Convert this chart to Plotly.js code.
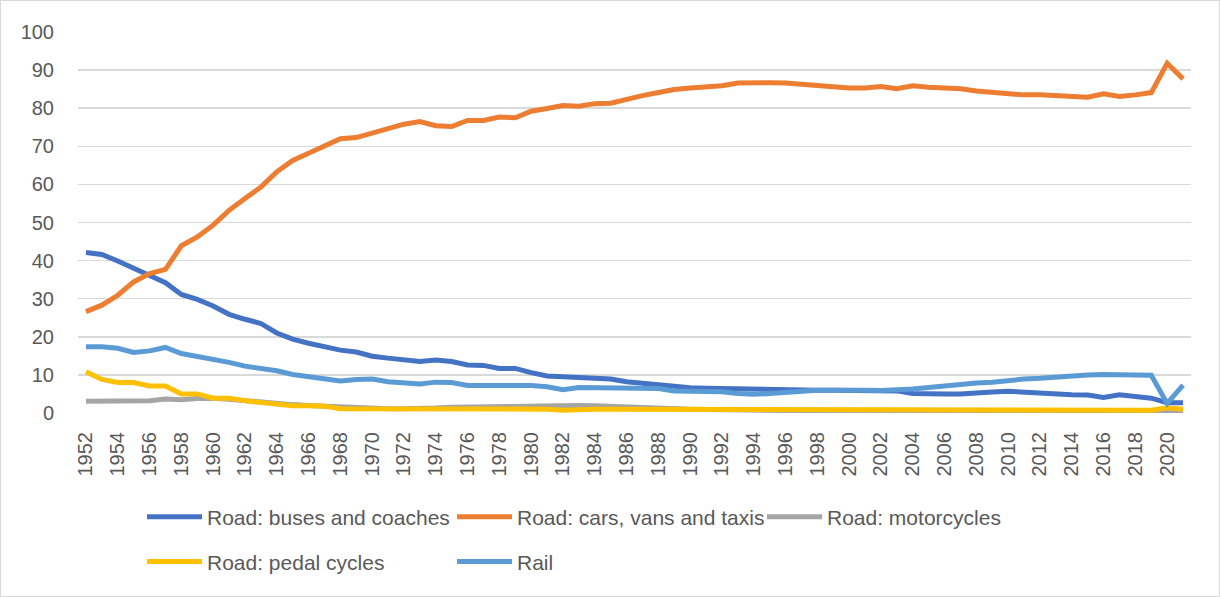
<!DOCTYPE html>
<html lang="en">
<head>
    <meta charset="UTF-8">
    <title>Passenger kilometres by mode</title>
    <script src="https://cdn.plot.ly/plotly-3.0.1.min.js"></script>
    <style>
        body {
            margin: 0;
            padding: 0;
            background: white;
            font-family: 'Liberation Sans', Arial, sans-serif;
        }

        .wrap {
            position: relative;
            width: 1220px;
            height: 597px;
        }

        #plot {
            width: 1220px;
            height: 597px;
        }

        /* thin frame round the whole chart, like the spreadsheet export */
        .frame {
            position: absolute;
            left: 0;
            top: 0;
            width: 1220px;
            height: 597px;
            box-sizing: border-box;
            border: 1px solid #d9d9d9;
            pointer-events: none;
        }
    </style>
</head>
<body>
    <div class="wrap">
        <div id="plot"></div>
        <div class="frame"></div>
    </div>

    <script>
        // categories
        const years = [];
        for (let y = 1952; y <= 2021; y++) years.push(y);

        // share of passenger kilometres (%), 1952 - 2021
        const buses = [
            42.1, 41.6, 39.9, 37.9, 36.2, 34.2, 31.1, 29.8, 28.1, 25.9,
            24.6, 23.5, 21.0, 19.4, 18.3, 17.4, 16.5, 16.0, 14.9, 14.4,
            14.1, 13.5, 13.9, 13.5, 12.6, 12.5, 11.7, 11.7, 10.6, 9.7,
            9.5, 9.3, 8.9, 8.9, 8.2, 7.8, 7.3, 6.9, 6.6, 6.5,
            6.4, 6.2, 6.1, 6.0, 6.0, 6.0, 6.0, 6.0, 6.0, 6.0,
            5.9, 5.8, 5.1, 5.2, 5.0, 5.0, 5.4, 5.5, 5.7, 5.4,
            5.3, 5.0, 4.8, 4.7, 4.1, 4.8, 4.4, 3.9, 2.7, 2.7
        ];
        const cars = [
            26.6, 28.3, 30.9, 34.4, 36.6, 37.7, 43.9, 46.2, 49.3, 53.2,
            56.3, 59.3, 63.3, 66.3, 68.2, 70.2, 72.0, 72.3, 73.5, 74.6,
            75.8, 76.5, 75.4, 75.2, 76.8, 76.8, 77.7, 77.5, 79.2, 79.9,
            80.7, 80.5, 81.2, 81.3, 82.4, 83.3, 84.1, 84.9, 85.3, 85.5,
            85.9, 86.6, 86.8, 86.7, 86.6, 86.2, 85.9, 85.5, 85.3, 85.3,
            85.7, 85.1, 85.9, 85.5, 85.4, 85.1, 84.5, 84.2, 83.7, 83.5,
            83.5, 83.4, 83.3, 82.9, 83.8, 83.1, 83.5, 84.1, 91.8, 87.7
        ];
        const motorcycles = [
            3.1, 3.1, 3.4, 3.4, 3.2, 3.7, 3.5, 3.8, 3.9, 3.6,
            3.2, 2.8, 2.4, 2.2, 2.0, 1.8, 1.5, 1.4, 1.2, 1.1,
            1.1, 1.1, 1.3, 1.5, 1.6, 1.6, 1.6, 1.6, 1.8, 2.1,
            2.2, 2.0, 1.9, 1.7, 1.5, 1.4, 1.2, 1.1, 1.0, 0.9,
            0.8, 0.7, 0.6, 0.6, 0.6, 0.6, 0.6, 0.6, 0.6, 0.6,
            0.6, 0.6, 0.6, 0.6, 0.6, 0.6, 0.6, 0.6, 0.6, 0.6,
            0.6, 0.6, 0.6, 0.6, 0.5, 0.5, 0.5, 0.5, 0.8, 0.6
        ];
        const pedalCycles = [
            10.8, 8.8, 8.0, 8.0, 7.1, 7.1, 5.0, 5.0, 3.9, 3.9,
            3.2, 2.8, 2.1, 1.9, 1.9, 1.8, 1.1, 1.1, 1.0, 1.0,
            1.0, 1.0, 1.0, 1.0, 1.0, 1.0, 1.0, 1.0, 1.0, 1.0,
            0.7, 1.0, 1.0, 1.0, 1.0, 0.9, 0.9, 0.9, 0.9, 0.9,
            0.9, 0.9, 0.9, 0.9, 0.7, 0.7, 0.7, 0.7, 0.7, 0.7,
            0.7, 0.7, 0.7, 0.7, 0.7, 0.7, 0.7, 0.7, 0.7, 0.7,
            0.7, 0.7, 0.7, 0.7, 0.7, 0.7, 0.7, 0.7, 1.4, 1.0
        ];
        const rail = [
            17.4, 17.4, 17.0, 15.9, 16.3, 17.2, 15.6, 14.9, 14.2, 13.3,
            12.3, 11.7, 11.1, 10.1, 9.5, 8.9, 8.4, 8.8, 8.9, 8.2,
            7.8, 7.6, 8.1, 8.0, 7.2, 7.2, 7.3, 7.3, 7.2, 6.9,
            6.1, 6.7, 6.7, 6.7, 6.6, 6.5, 6.4, 5.8, 5.8, 5.7,
            5.6, 5.1, 4.9, 5.1, 5.5, 5.8, 6.0, 6.0, 6.1, 6.0,
            5.9, 6.0, 6.3, 6.7, 7.2, 7.6, 7.9, 8.1, 8.6, 8.9,
            9.1, 9.5, 9.8, 10.0, 10.1, 10.1, 10.1, 9.9, 2.5, 7.3
        ];

        const seriesNames = [
            'Road: buses and coaches',
            'Road: cars, vans and taxis',
            'Road: motorcycles',
            'Road: pedal cycles',
            'Rail'
        ];

        const tickYears = years.filter(y => y % 2 === 0);

        function makeTrace(values, i, color, legendId) {
            return {
                x: years,
                y: values,
                type: 'scatter',
                mode: 'lines',
                name: seriesNames[i],
                legend: legendId,
                line: { color: color, width: 5 },
                hoverinfo: 'skip'
            };
        }

        const traces = [
            makeTrace(buses, 0, '#4472C4', 'legend'),
            makeTrace(cars, 1, '#ED7D31', 'legend'),
            makeTrace(motorcycles, 2, '#A5A5A5', 'legend'),
            makeTrace(pedalCycles, 3, '#FFC000', 'legend2'),
            makeTrace(rail, 4, '#5B9BD5', 'legend2')
        ];

        const legendBase = {
            orientation: 'h',
            xanchor: 'left',
            yanchor: 'middle',
            x: 0.0575,
            itemwidth: 55,
            entrywidth: 240,
            entrywidthmode: 'pixels',
            bgcolor: 'rgba(0,0,0,0)',
            font: { family: 'Liberation Sans, Arial, sans-serif', size: 21, color: '#595959' }
        };

        const layout = {
            width: 1220,
            height: 597,
            margin: { l: 78, r: 29, t: 32, b: 184 },
            paper_bgcolor: 'white',
            plot_bgcolor: 'white',
            font: { family: 'Liberation Sans, Arial, sans-serif', size: 20, color: '#595959' },
            showlegend: true,
            xaxis: {
                type: 'linear',
                range: [1951.5, 2021.5],
                tickmode: 'array',
                tickvals: tickYears,
                ticktext: tickYears.map(String),
                tickangle: -90,
                ticklabelstandoff: 14,
                showgrid: false,
                zeroline: false,
                showline: false,
                ticks: '',
                tickfont: { size: 20, color: '#595959' }
            },
            yaxis: {
                range: [0, 100],
                dtick: 10,
                showgrid: true,
                gridcolor: '#d9d9d9',
                gridwidth: 1.5,
                zeroline: false,
                showline: false,
                ticks: '',
                ticklabelstandoff: 23,
                tickfont: { size: 20, color: '#595959' }
            },
            legend: Object.assign({}, legendBase, { y: -0.273 }),
            legend2: Object.assign({}, legendBase, { y: -0.391 })
        };

        Plotly.newPlot('plot', traces, layout, { staticPlot: true, displayModeBar: false });
    </script>
</body>
</html>
